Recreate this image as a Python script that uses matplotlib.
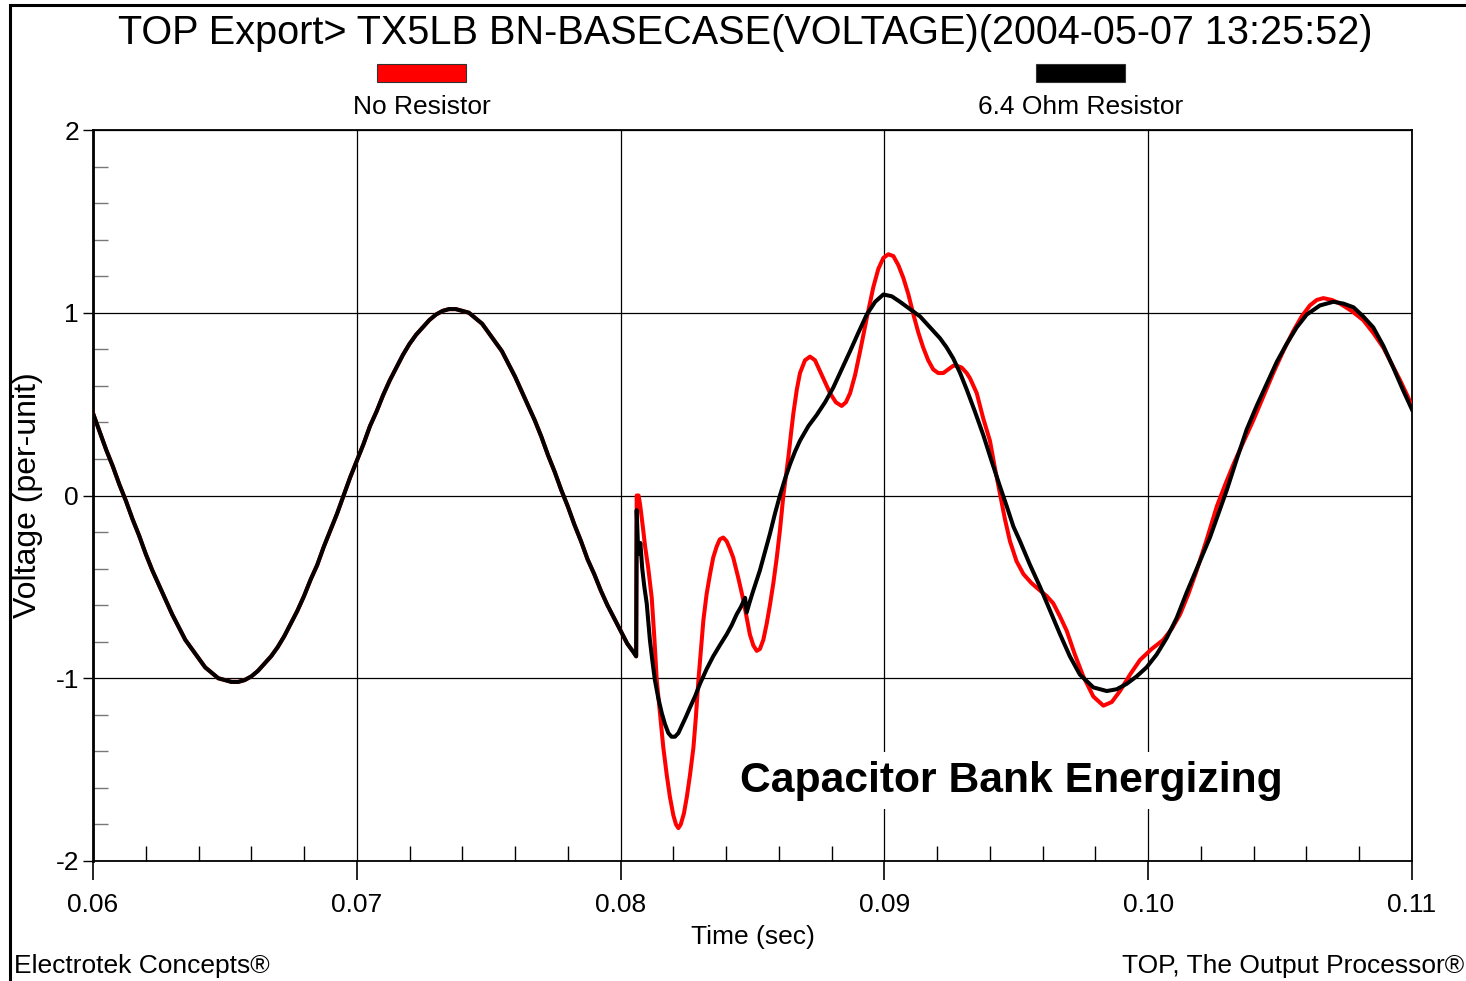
import matplotlib
matplotlib.use("Agg")
import matplotlib.pyplot as plt
from matplotlib.ticker import MultipleLocator, FormatStrFormatter
from matplotlib.patches import Rectangle

plt.rcParams['font.family'] = ['Liberation Sans', 'DejaVu Sans']
plt.rcParams['axes.unicode_minus'] = False

# steady-state 60 Hz voltage before the breaker closes (same for both cases),
# sampled every 0.25 ms from 0.060 s
dt_pre = 0.00025
v_pre = [0.45, 0.35, 0.25, 0.16, 0.06, -0.03, -0.13, -0.22, -0.32, -0.41,
         -0.49, -0.57, -0.65, -0.72, -0.79, -0.84, -0.89, -0.94, -0.97, -1.00,
         -1.01, -1.02, -1.02, -1.01, -0.99, -0.96, -0.92, -0.88, -0.83, -0.77,
         -0.70, -0.63, -0.55, -0.46, -0.38, -0.28, -0.19, -0.10, 0.00, 0.10,
         0.19, 0.28, 0.38, 0.46, 0.55, 0.63, 0.70, 0.77, 0.83, 0.88,
         0.92, 0.96, 0.99, 1.01, 1.02, 1.02, 1.01, 1.00, 0.97, 0.94,
         0.89, 0.84, 0.79, 0.72, 0.65, 0.57, 0.49, 0.41, 0.32, 0.22,
         0.13, 0.03, -0.06, -0.16, -0.25, -0.35, -0.43, -0.52, -0.60, -0.67,
         -0.74, -0.81, -0.86]
t_pre = [round(0.06 + dt_pre * i, 5) for i in range(len(v_pre))]
t_pre.append(0.08059)
v_pre.append(-0.88)

# capacitor energizing transient, no pre-insertion resistor
t_nores = [0.08061, 0.08068, 0.08074, 0.08085, 0.08093, 0.08105, 0.08118, 0.08128,
           0.08137, 0.08150, 0.08162, 0.08175, 0.08187, 0.08200, 0.08210, 0.08219,
           0.08228, 0.08240, 0.08251, 0.08263, 0.08276, 0.08285, 0.08295, 0.08305,
           0.08314, 0.08326, 0.08339, 0.08351, 0.08364, 0.08376, 0.08389, 0.08402,
           0.08414, 0.08427, 0.08446, 0.08465, 0.08478, 0.08490, 0.08503, 0.08516,
           0.08528, 0.08541, 0.08554, 0.08566, 0.08579, 0.08592, 0.08604, 0.08617,
           0.08636, 0.08646, 0.08655, 0.08668, 0.08680, 0.08699, 0.08718, 0.08737,
           0.08756, 0.08775, 0.08794, 0.08816, 0.08838, 0.08854, 0.08870, 0.08889,
           0.08908, 0.08933, 0.08958, 0.08977, 0.08996, 0.09015, 0.09034, 0.09053,
           0.09072, 0.09091, 0.09110, 0.09129, 0.09147, 0.09166, 0.09185, 0.09204,
           0.09223, 0.09242, 0.09261, 0.09274, 0.09293, 0.09312, 0.09325, 0.09350,
           0.09375, 0.09400, 0.09419, 0.09438, 0.09457, 0.09476, 0.09501, 0.09527,
           0.09558, 0.09590, 0.09615, 0.09640, 0.09665, 0.09691, 0.09722, 0.09754,
           0.09792, 0.09830, 0.09862, 0.09893, 0.09931, 0.09969, 0.10013, 0.10057,
           0.10089, 0.10121, 0.10152, 0.10184, 0.10222, 0.10260, 0.10292, 0.10323,
           0.10360, 0.10398, 0.10436, 0.10474, 0.10512, 0.10550, 0.10582, 0.10613,
           0.10639, 0.10664, 0.10696, 0.10727, 0.10771, 0.10815, 0.10853, 0.10891,
           0.10923, 0.10955, 0.10978, 0.11000]
v_nores = [0.00, 0.00, -0.05, -0.18, -0.28, -0.40, -0.56, -0.78,
           -1.01, -1.20, -1.38, -1.53, -1.65, -1.75, -1.80, -1.82,
           -1.80, -1.74, -1.65, -1.53, -1.38, -1.22, -1.01, -0.84,
           -0.68, -0.54, -0.43, -0.34, -0.28, -0.24, -0.23, -0.25,
           -0.29, -0.34, -0.45, -0.57, -0.67, -0.76, -0.82, -0.85,
           -0.84, -0.79, -0.70, -0.60, -0.48, -0.34, -0.19, 0.00,
           0.21, 0.34, 0.45, 0.58, 0.67, 0.74, 0.76, 0.74,
           0.68, 0.62, 0.56, 0.51, 0.49, 0.51, 0.56, 0.66,
           0.79, 0.97, 1.14, 1.24, 1.30, 1.32, 1.31, 1.26,
           1.19, 1.10, 0.99, 0.89, 0.81, 0.74, 0.69, 0.67,
           0.67, 0.69, 0.71, 0.71, 0.70, 0.67, 0.64, 0.56,
           0.42, 0.30, 0.15, 0.01, -0.13, -0.25, -0.36, -0.43,
           -0.48, -0.52, -0.55, -0.59, -0.66, -0.74, -0.87, -0.99,
           -1.10, -1.15, -1.13, -1.07, -0.98, -0.90, -0.84, -0.79,
           -0.73, -0.65, -0.54, -0.41, -0.24, -0.06, 0.06, 0.17,
           0.29, 0.41, 0.54, 0.67, 0.79, 0.90, 0.98, 1.04,
           1.07, 1.08, 1.07, 1.05, 1.01, 0.96, 0.89, 0.81,
           0.72, 0.63, 0.56, 0.49]

# same event with the 6.4 ohm pre-insertion resistor
t_res = [0.08061, 0.08067, 0.08075, 0.08082, 0.08090, 0.08099, 0.08111, 0.08120,
         0.08130, 0.08143, 0.08156, 0.08168, 0.08181, 0.08193, 0.08206, 0.08219,
         0.08232, 0.08248, 0.08263, 0.08282, 0.08301, 0.08326, 0.08351, 0.08376,
         0.08402, 0.08421, 0.08440, 0.08456, 0.08472, 0.08478, 0.08490, 0.08503,
         0.08528, 0.08547, 0.08566, 0.08585, 0.08604, 0.08623, 0.08642, 0.08661,
         0.08680, 0.08712, 0.08743, 0.08775, 0.08806, 0.08838, 0.08870, 0.08901,
         0.08933, 0.08965, 0.08996, 0.09028, 0.09059, 0.09097, 0.09135, 0.09173,
         0.09211, 0.09236, 0.09261, 0.09287, 0.09312, 0.09343, 0.09375, 0.09406,
         0.09438, 0.09464, 0.09489, 0.09514, 0.09552, 0.09590, 0.09628, 0.09666,
         0.09703, 0.09741, 0.09792, 0.09843, 0.09881, 0.09919, 0.09956, 0.09994,
         0.10032, 0.10070, 0.10108, 0.10146, 0.10190, 0.10234, 0.10266, 0.10298,
         0.10336, 0.10373, 0.10411, 0.10449, 0.10487, 0.10525, 0.10563, 0.10601,
         0.10651, 0.10702, 0.10740, 0.10778, 0.10815, 0.10853, 0.10891, 0.10929,
         0.10965, 0.11000]
v_res = [-0.08, -0.32, -0.26, -0.40, -0.50, -0.59, -0.79, -0.90,
         -1.01, -1.11, -1.19, -1.25, -1.30, -1.32, -1.32, -1.30,
         -1.26, -1.21, -1.16, -1.10, -1.03, -0.95, -0.88, -0.82,
         -0.76, -0.71, -0.65, -0.61, -0.56, -0.64, -0.58, -0.52,
         -0.41, -0.31, -0.21, -0.10, 0.00, 0.09, 0.17, 0.24,
         0.30, 0.38, 0.44, 0.51, 0.59, 0.69, 0.79, 0.89,
         0.99, 1.06, 1.10, 1.09, 1.06, 1.02, 0.98, 0.92,
         0.86, 0.81, 0.75, 0.67, 0.58, 0.46, 0.33, 0.19,
         0.05, -0.06, -0.17, -0.25, -0.38, -0.50, -0.63, -0.76,
         -0.88, -0.98, -1.05, -1.07, -1.06, -1.03, -0.99, -0.94,
         -0.87, -0.78, -0.67, -0.53, -0.38, -0.23, -0.10, 0.03,
         0.20, 0.36, 0.49, 0.61, 0.73, 0.83, 0.92, 0.99,
         1.04, 1.06, 1.05, 1.03, 0.98, 0.92, 0.82, 0.70,
         0.58, 0.47]

series_names = ['No Resistor', '6.4 Ohm Resistor']
series_colors = ['#ff0000', '#000000']

fig = plt.figure(figsize=(14.66, 9.81), dpi=100)
fig.patch.set_facecolor('white')

# page frame, only left and top edges fall inside the image
fig.patches.append(Rectangle((10 / 1466, -0.05), 1.2, 1 - 5 / 981 + 0.05,
                             transform=fig.transFigure, fill=False,
                             edgecolor='black', linewidth=2.2))

ax = fig.add_axes([93 / 1466, 120 / 981, 1319 / 1466, 731 / 981])

ax.plot(t_pre + t_nores, v_pre + v_nores, color=series_colors[0], lw=2.9,
        solid_joinstyle='round', zorder=3)
ax.plot(t_pre + t_res, v_pre + v_res, color=series_colors[1], lw=2.9,
        solid_joinstyle='round', zorder=4)

ax.set_xlim(0.06, 0.11)
ax.set_ylim(-2, 2)
ax.xaxis.set_major_locator(MultipleLocator(0.01))
ax.xaxis.set_minor_locator(MultipleLocator(0.002))
ax.xaxis.set_major_formatter(FormatStrFormatter('%.2f'))
ax.yaxis.set_major_locator(MultipleLocator(1))
ax.yaxis.set_minor_locator(MultipleLocator(0.2))
ax.yaxis.set_major_formatter(FormatStrFormatter('%d'))

ax.grid(True, which='major', color='black', lw=0.9)
ax.set_axisbelow(True)
ax.tick_params(axis='x', which='major', direction='out', length=14, width=1.2,
               labelsize=19, pad=9)
ax.tick_params(axis='x', which='minor', direction='in', length=11, width=1.0)
ax.tick_params(axis='y', which='major', direction='out', length=7, width=1.0,
               labelsize=19, pad=3)
ax.tick_params(axis='y', which='minor', direction='in', length=11, width=1.0,
               color='#777777')
for side in ['top', 'right', 'bottom']:
    ax.spines[side].set_linewidth(1.3)
ax.spines['left'].set_linewidth(2.0)

ax.set_xlabel('Time (sec)', fontsize=19, labelpad=6)
ax.set_ylabel('Voltage (per-unit)', fontsize=23, labelpad=9)

ax.text(0.0948, -1.56, 'Capacitor Bank Energizing', fontsize=30.7,
        fontweight='bold', ha='center', va='center', zorder=5,
        bbox=dict(facecolor='white', edgecolor='none', pad=6))

fig.text(745 / 1466, 1 - 33 / 981,
         'TOP Export> TX5LB BN-BASECASE(VOLTAGE)(2004-05-07 13:25:52)',
         fontsize=28.5, ha='center', va='center')

# legend swatches with their captions underneath
swatch_x = [377, 1036]
for name, col, sx in zip(series_names, series_colors, swatch_x):
    fig.patches.append(Rectangle((sx / 1466, 1 - 82 / 981), 89 / 1466, 18 / 981,
                                 transform=fig.transFigure, facecolor=col,
                                 edgecolor='#333333', linewidth=0.8))
    fig.text((sx + 45) / 1466, 1 - 107 / 981, name, fontsize=19,
             ha='center', va='center')

fig.text(14 / 1466, 1 - 966 / 981, 'Electrotek Concepts\u00ae', fontsize=19,
         ha='left', va='center')
fig.text(1464 / 1466, 1 - 966 / 981, 'TOP, The Output Processor\u00ae',
         fontsize=19, ha='right', va='center')

fig.savefig('out.png', dpi=100)
